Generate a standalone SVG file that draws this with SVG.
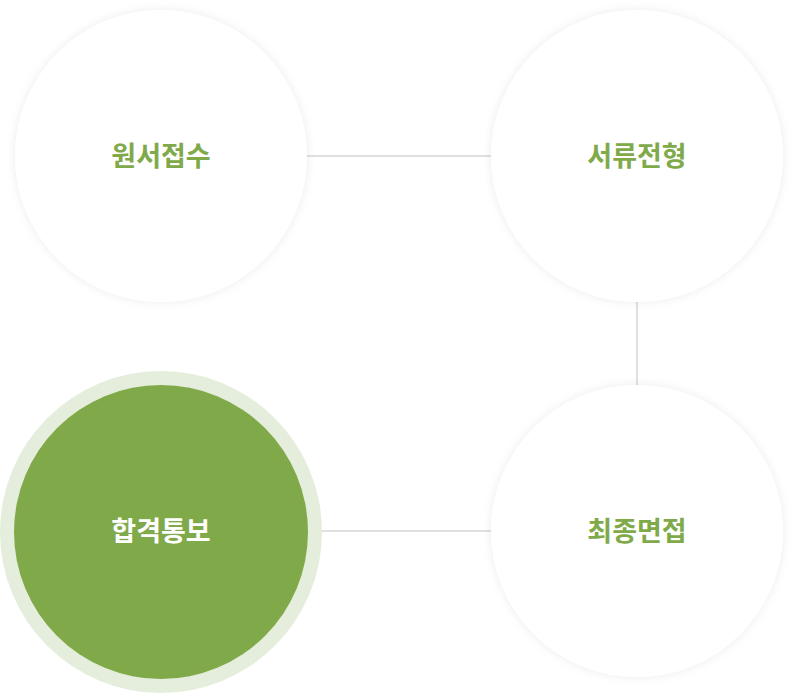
<svg xmlns="http://www.w3.org/2000/svg" width="800" height="694" viewBox="0 0 800 694">
<style>
.w{fill:#fff;filter:url(#sh)}
.t{font-family:"Noto Sans CJK KR",sans-serif;font-weight:700;font-size:27px;text-anchor:middle;fill:#80aa4a}
.c line{stroke:#d6d6d6;stroke-width:1.5}
</style>
<defs><filter id="sh" x="-20%" y="-20%" width="140%" height="140%"><feDropShadow dx="0" dy="0" stdDeviation="5" flood-color="#000" flood-opacity="0.08"/></filter></defs>
<rect width="800" height="694" fill="#fff"/>
<g class="c">
<line x1="300" y1="156" x2="500" y2="156"/>
<line x1="637" y1="295" x2="637" y2="392"/>
<line x1="300" y1="531" x2="500" y2="531"/>
</g>
<g id="n1"><circle class="w" cx="161" cy="156" r="146"/><text class="t" x="161" y="166">원서접수</text></g>
<g id="n2"><circle class="w" cx="637" cy="156" r="146"/><text class="t" x="637" y="166">서류전형</text></g>
<g id="n3"><circle class="w" cx="637" cy="531" r="146"/><text class="t" x="637" y="541">최종면접</text></g>
<g id="n4"><circle cx="161" cy="532" r="161" fill="#e5eedc"/><circle cx="161" cy="532" r="147" fill="#80aa4a"/><text class="t" x="161" y="541" style="fill:#fff">합격통보</text></g>
</svg>
